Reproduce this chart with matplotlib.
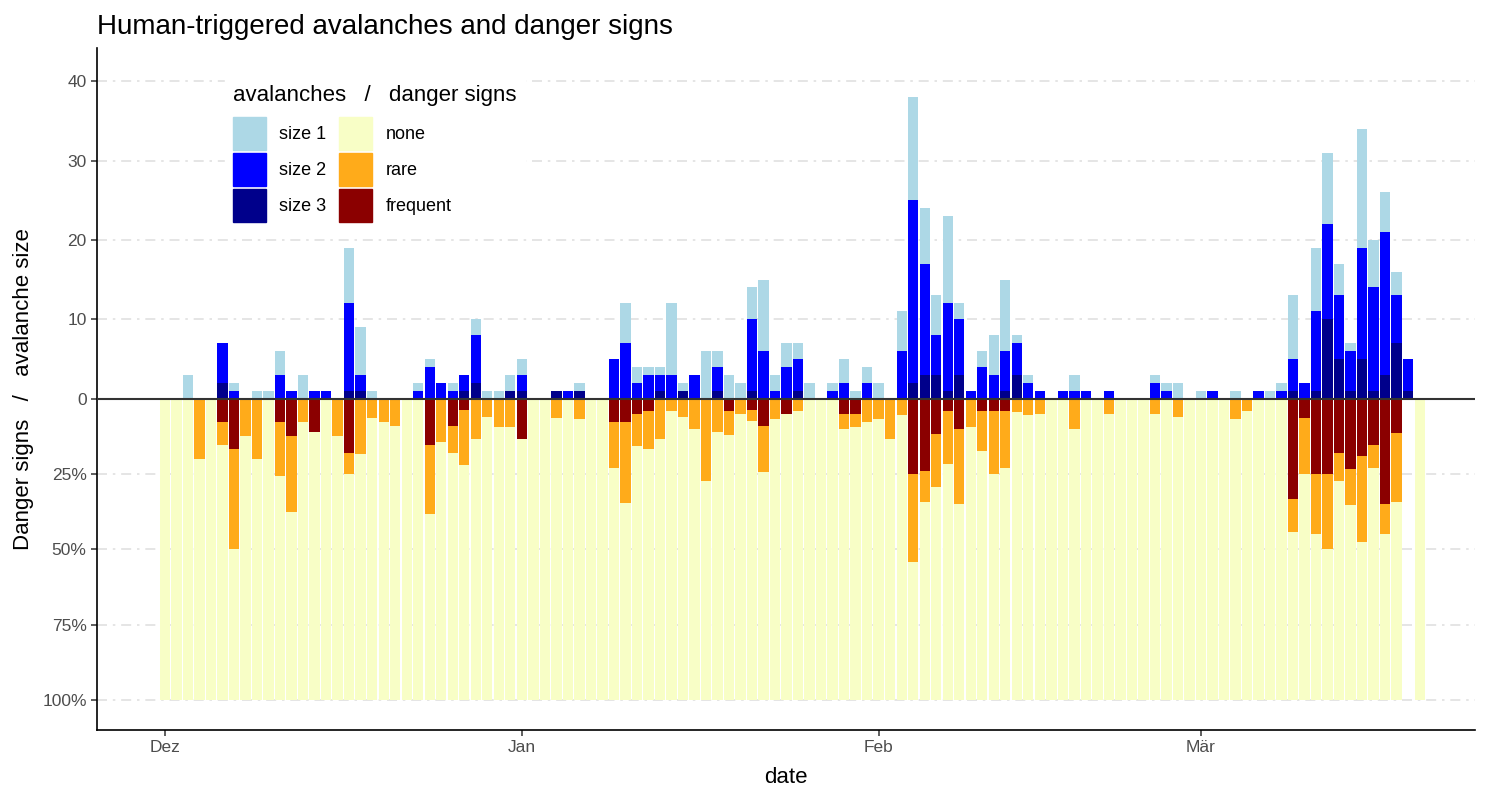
import matplotlib
matplotlib.use("Agg")
import matplotlib.pyplot as plt
import matplotlib.dates as mdates
import numpy as np
import pandas as pd
from matplotlib.patches import Patch

plt.rcParams['font.family'] = ['Liberation Sans', 'DejaVu Sans']

# days from 1 Dec 2022 to 20 Mar 2023
dates = pd.date_range("2022-12-01", periods=110, freq="D")

# human-triggered avalanches per day, by size
size1 = [0, 0, 3, 0, 0, 0, 1, 0, 1, 1, 3, 0, 3, 0, 0, 0, 7, 6, 1, 0,
         0, 0, 1, 1, 0, 1, 0, 2, 1, 1, 2, 2, 0, 0, 0, 0, 1, 0, 0, 0,
         5, 2, 1, 1, 9, 1, 0, 6, 2, 3, 2, 4, 9, 2, 3, 2, 2, 0, 1, 3,
         1, 2, 2, 0, 5, 13, 7, 5, 11, 2, 0, 2, 5, 9, 1, 1, 0, 0, 0, 2,
         0, 0, 0, 0, 0, 0, 1, 1, 2, 0, 1, 0, 0, 1, 0, 0, 1, 1, 8, 0,
         8, 9, 4, 1, 15, 6, 5, 3, 0, 0]
size2 = [0, 0, 0, 0, 0, 5, 1, 0, 0, 0, 3, 1, 0, 1, 1, 0, 11, 2, 0, 0,
         0, 0, 1, 4, 2, 1, 2, 6, 0, 0, 0, 2, 0, 0, 0, 1, 0, 0, 0, 5,
         7, 2, 3, 2, 3, 0, 3, 0, 3, 0, 0, 9, 6, 1, 4, 4, 0, 0, 1, 2,
         0, 2, 0, 0, 6, 23, 14, 5, 11, 7, 1, 4, 3, 5, 4, 2, 1, 0, 1, 1,
         1, 0, 1, 0, 0, 0, 2, 1, 0, 0, 0, 1, 0, 0, 0, 1, 0, 1, 4, 2,
         10, 12, 8, 5, 14, 13, 18, 6, 4, 0]
size3 = [0, 0, 0, 0, 0, 2, 0, 0, 0, 0, 0, 0, 0, 0, 0, 0, 1, 1, 0, 0,
         0, 0, 0, 0, 0, 0, 1, 2, 0, 0, 1, 1, 0, 0, 1, 0, 1, 0, 0, 0,
         0, 0, 0, 1, 0, 1, 0, 0, 1, 0, 0, 1, 0, 0, 0, 1, 0, 0, 0, 0,
         0, 0, 0, 0, 0, 2, 3, 3, 1, 3, 0, 0, 0, 1, 3, 0, 0, 0, 0, 0,
         0, 0, 0, 0, 0, 0, 0, 0, 0, 0, 0, 0, 0, 0, 0, 0, 0, 0, 1, 0,
         1, 10, 5, 1, 5, 1, 3, 7, 1, 0]

# share of reports with danger signs (%), nan = no report that day
frequent = [0, 0, 0, 0, 0, 7.7, 16.7, 0, 0, 0, 7.7, 12.5, 0, 11.1, 0, 0, 18, 0, 0, 0,
            0, 0, 0, 15.4, 0, 9.1, 3.7, 0, 0, 0, 0, 13.3, 0, 0, 0, 0, 0, 0, 0, 7.7,
            7.7, 5.3, 4.2, 0, 0, 0, 0, 0, 0, 4, 0, 3.8, 9.1, 0, 5.3, 0, 0, 0, 0, 5,
            5, 0, 0, 0, 0, 25, 24.2, 11.8, 4.3, 10, 0, 4.3, 4.2, 4, 0, 0, 0, 0, 0, 0,
            0, 0, 0, 0, 0, 0, 0, 0, 0, 0, 0, 0, 0, 0, 0, 0, 0, 0, 33.3, 6.3,
            25, 25, 18.2, 23.5, 19, 15.4, 35, 11.5, np.nan, 0]
rare = [0, 0, 0, 20, 0, 7.7, 33.3, 12.5, 20, 0, 18.1, 25, 7.7, 0, 0, 12.5, 7.2, 18.5, 6.3, 7.7,
        9.1, 0, 0, 23, 14.3, 9.1, 18.5, 13.3, 6, 9.5, 9.5, 0, 0, 0, 6.3, 0, 6.7, 0, 0, 15.4,
        27.1, 10.5, 12.5, 13.6, 4, 6, 10, 27.5, 11.1, 8, 5, 3.8, 15.2, 6.7, 0, 4.3, 0, 0, 0, 5,
        4.5, 7.7, 6.7, 13.3, 5.6, 29.2, 10.2, 17.6, 17.4, 25, 9.5, 13, 20.8, 19, 4.5, 5.6, 5, 0, 0, 10,
        0, 0, 5, 0, 0, 0, 5, 0, 6, 0, 0, 0, 0, 6.7, 4.3, 0, 0, 0, 11.1, 18.8,
        20, 25, 9.1, 11.8, 28.6, 7.7, 10, 23, np.nan, 0]

month_ticks = ["2022-12-01", "2023-01-01", "2023-02-01", "2023-03-01"]
month_labels = ["Dez", "Jan", "Feb", "Mär"]

c_s1, c_s2, c_s3 = "#ADD8E6", "#0000FF", "#00008B"
c_none, c_rare, c_freq = "#F8FEC6", "#FFAB1A", "#8B0000"

x = mdates.date2num(dates)
s1 = np.array(size1, float)
s2 = np.array(size2, float)
s3 = np.array(size3, float)
fr = np.array(frequent, float)
ra = np.array(rare, float)

scale = (s1 + s2 + s3).max()      # 100 % = largest daily count
fr_u = fr / 100 * scale
ra_u = ra / 100 * scale
has = ~np.isnan(fr)

fig = plt.figure(figsize=(15, 8), dpi=100)
ax = fig.add_axes([0.0647, 0.0875, 0.9186, 0.8525])

w = 0.9
# danger signs below zero
ax.bar(x[has], -fr_u[has], width=w, color=c_freq, zorder=2)
ax.bar(x[has], -ra_u[has], bottom=-fr_u[has], width=w, color=c_rare, zorder=2)
ax.bar(x[has], -(scale - fr_u[has] - ra_u[has]), bottom=-(fr_u[has] + ra_u[has]),
       width=w, color=c_none, zorder=2)
# avalanches above zero
ax.bar(x, s3, width=w, color=c_s3, zorder=2)
ax.bar(x, s2, bottom=s3, width=w, color=c_s2, zorder=2)
ax.bar(x, s1, bottom=s3 + s2, width=w, color=c_s1, zorder=2)

ax.axhline(0, color="#333333", lw=1.5, zorder=3)

yt = [40, 30, 20, 10, 0, -0.25 * scale, -0.5 * scale, -0.75 * scale, -scale]
ytl = ["40", "30", "20", "10", "0", "25%", "50%", "75%", "100%"]
for v in yt:
    if v != 0:
        ax.axhline(v, color="#E0E0E0", lw=1.2, dashes=(6, 3.5, 1.5, 3.5), zorder=1)
ax.set_yticks(yt)
ax.set_yticklabels(ytl)

ax.set_xticks(mdates.date2num(pd.to_datetime(month_ticks)))
ax.set_xticklabels(month_labels)
ax.set_xlim(x[0] - 5.9, x[0] + 113.8)
ax.set_ylim(-41.8, 44.2)

for s in ["top", "right"]:
    ax.spines[s].set_visible(False)
for s in ["left", "bottom"]:
    ax.spines[s].set_color("black")
    ax.spines[s].set_linewidth(1.2)
ax.tick_params(axis="both", colors="#333333", labelcolor="#4D4D4D", labelsize=12.5, length=4, width=1.1)

ax.set_xlabel("date", fontsize=16, labelpad=8)
ax.set_ylabel("Danger signs   /   avalanche size", fontsize=16, labelpad=6)
fig.text(0.0647, 0.966, "Human-triggered avalanches and danger signs", fontsize=20, va="center", ha="left")

handles = [Patch(color=c_s1, label="size 1"), Patch(color=c_s2, label="size 2"),
           Patch(color=c_s3, label="size 3"), Patch(color=c_none, label="none"),
           Patch(color=c_rare, label="rare"), Patch(color=c_freq, label="frequent")]
leg = ax.legend(handles=handles, ncol=2, title="avalanches   /   danger signs",
                loc="upper left", bbox_to_anchor=(216 / 1500, 1 - 68 / 800),
                bbox_transform=fig.transFigure, fontsize=13, title_fontsize=16,
                handlelength=1.83, handleheight=2.43, labelspacing=0.17,
                handletextpad=0.72, columnspacing=0.72, borderpad=0.45,
                frameon=True, fancybox=False, edgecolor="white", framealpha=1,
                alignment="left")
leg._legend_box.sep = 8   # more room under the legend title
leg.set_zorder(5)

fig.savefig("out.png", dpi=100)
